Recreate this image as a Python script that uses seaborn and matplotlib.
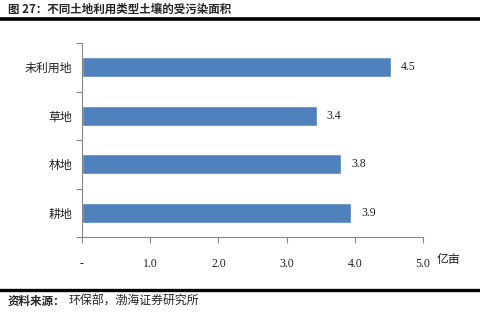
import matplotlib
matplotlib.use("Agg")
import matplotlib.pyplot as plt
import seaborn as sns
import pandas as pd

categories = ["未利用地", "草地", "林地", "耕地"]
values = [4.53, 3.44, 3.80, 3.95]
value_labels = ["4.5", "3.4", "3.8", "3.9"]
xticks = [0, 1, 2, 3, 4, 5]
xtick_labels = ["-", "1.0", "2.0", "3.0", "4.0", "5.0"]
unit = "亿亩"
title = "图 27：不同土地利用类型土壤的受污染面积"
source_bold = "资料来源："
source_rest = "环保部，渤海证券研究所"

sns.set_theme(style="white")
plt.rcParams['font.family'] = ['Noto Sans CJK SC', 'DejaVu Sans']

df = pd.DataFrame({"cat": categories, "val": values})

fig = plt.figure(figsize=(4.81, 3.13), dpi=100)
ax = fig.add_axes([82/481, 1-237/313, (423-82)/481, (237-43)/313])
sns.barplot(data=df, x="val", y="cat", order=categories, color="#4F81BD",
            width=0.41, saturation=1, ax=ax)
ax.set_xlim(0, 5)
ax.set_ylim(3.5, -0.5)
ax.set_xlabel("")
ax.set_ylabel("")

serif = ['Liberation Serif', 'DejaVu Serif']
ax.set_xticks(xticks)
ax.set_xticklabels(xtick_labels, family=serif, fontsize=8.5, color="#222222")
ax.set_yticks([-0.5, 0.5, 1.5, 2.5, 3.5])
ax.set_yticklabels([])
ax.set_yticks(range(len(categories)), minor=True)
ax.set_yticklabels(categories, minor=True, fontsize=8.6, color="#222222")
ax.tick_params(axis="y", which="major", direction="out", length=4, width=0.8,
               color="#868686", left=True)
ax.tick_params(axis="y", which="minor", length=0, pad=7)
ax.tick_params(axis="x", direction="out", length=4, width=0.8, color="#868686",
               bottom=True, pad=11)

for s in ["top", "right"]:
    ax.spines[s].set_visible(False)
for s in ["left", "bottom"]:
    ax.spines[s].set_color("#868686")
    ax.spines[s].set_linewidth(0.8)

for i, (v, lab) in enumerate(zip(values, value_labels)):
    ax.text(v + 0.15, i, lab, va="center", ha="left", family=serif,
            fontsize=8.5, color="#222222")

fig.text(437/481, 1-259/313, unit, fontsize=8.6, va="center", ha="left", color="#222222")

fig.text(8/481, 1-9/313, title, fontsize=8.3, fontweight="bold", va="center", ha="left")
fig.add_artist(plt.Line2D([0, 1], [1-19/313, 1-19/313], color="black", lw=2.6,
                          transform=fig.transFigure))
fig.add_artist(plt.Line2D([0, 1], [1-289.5/313, 1-289.5/313], color="black", lw=2.4,
                          transform=fig.transFigure))
fig.text(8/481, 1-301/313, source_bold, fontsize=8.3, fontweight="bold", va="center", ha="left")
fig.text(69/481, 1-301/313, source_rest, fontsize=8.6, va="center", ha="left")

fig.savefig("out.png", dpi=100)
